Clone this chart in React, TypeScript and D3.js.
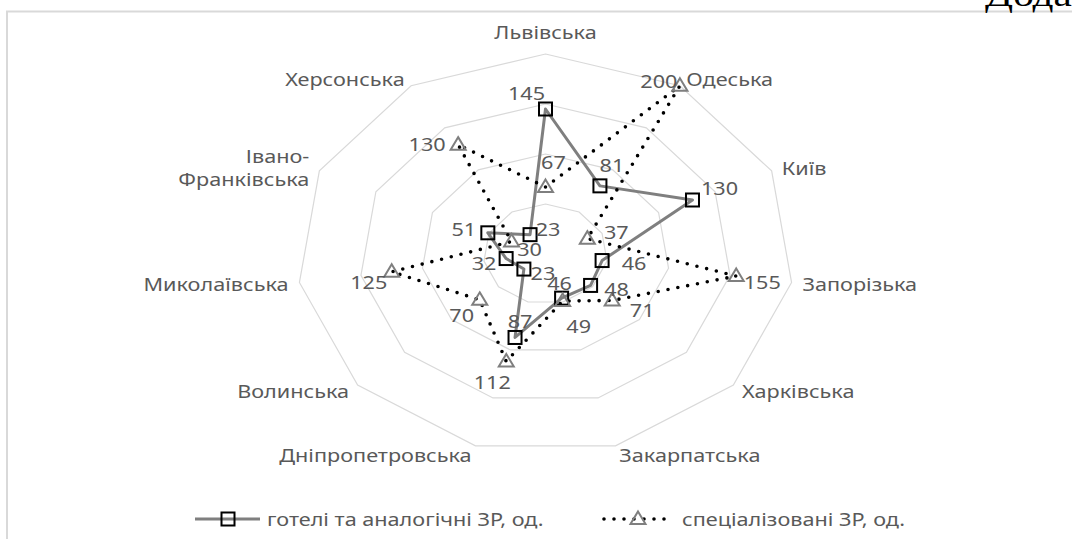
import React from "react";
import * as d3 from "d3";

const categories = [
  "Львівська",
  "Одеська",
  "Київ",
  "Запорізька",
  "Харківська",
  "Закарпатська",
  "Дніпропетровська",
  "Волинська",
  "Миколаївська",
  "Івано-|Франківська",
  "Херсонська",
];
const hotels = [145, 81, 130, 46, 48, 46, 87, 23, 32, 51, 23];
const special = [67, 200, 37, 155, 71, 49, 112, 70, 125, 30, 130];
const gridTicks = [50, 100, 150, 200];
const seriesNames = ["готелі та аналогічні ЗР, од.", "спеціалізовані ЗР, од."];

// label placement offsets (px) relative to each point
const hotelLabelOffsets = [[-19, -16], [12, -21], [27, -12], [32, 2], [26, 3], [-2, -15], [5, -17], [19, 4], [-22, 4], [-24, -4], [18, -6]];
const specialLabelOffsets = [[8, -25], [-21, -5], [29, -7], [26, 6], [30, 9], [16, 25], [-14, 20], [-18, 15], [-23, 10], [18, 7], [-31, -1]];

const FONT = "'Noto Sans', 'Open Sans', sans-serif";
const TEXT = "#595959";
const FS = 18.5;
const TX = 1.17;

export default function App() {
  const W = 1072, H = 539;
  const cx = 545.5, cy = 254, SX = 1.243;
  const n = categories.length;
  const r = d3.scaleLinear().domain([0, 200]).range([0, 200]);
  const angle = d3.scaleLinear().domain([0, n]).range([0, 2 * Math.PI]);
  const pt = (i: number, v: number): [number, number] => {
    const a = angle(i);
    return [cx + r(v) * Math.sin(a) * SX, cy - r(v) * Math.cos(a)];
  };
  const closed = d3.line().curve(d3.curveLinearClosed);

  const hotelPts = hotels.map((v, i) => pt(i, v));
  const specPts = special.map((v, i) => pt(i, v));

  const txt = (x: number, y: number, s: string, anchor = "middle", key?: any, extra: any = {}) => (
    <text
      key={key}
      transform={`translate(${x},${y}) scale(${TX},1)`}
      textAnchor={anchor}
      dominantBaseline="central"
      fontFamily={FONT}
      fontSize={FS}
      fill={TEXT}
      {...extra}
    >
      {s}
    </text>
  );

  const square = (x: number, y: number, key?: any) => (
    <rect key={key} x={x - 6.5} y={y - 6.5} width={13} height={13} fill="none" stroke="#000" strokeWidth={2} />
  );
  const tri = (x: number, y: number, key?: any) => (
    <path
      key={key}
      d={`M${x},${y - 7.5} L${x + 7.5},${y + 5} L${x - 7.5},${y + 5} Z`}
      fill="none"
      stroke="#7f7f7f"
      strokeWidth={2}
      strokeLinejoin="miter"
    />
  );

  const LY = 519;

  return (
    <svg width={W} height={H} style={{ position: "absolute", left: 0, top: 0, background: "#fff" }}>
      <rect x={0} y={0} width={W} height={H} fill="#fff" />
      {/* chart border */}
      <path d={`M7,${H + 5} L7,11.5 L${W + 5},11.5`} fill="none" stroke="#d9d9d9" strokeWidth={2} />
      {/* clipped header text */}
      <text
        transform={`translate(985,6) scale(1.25,1)`}
        fontFamily="'Liberation Serif', 'DejaVu Serif', serif"
        fontSize={33}
        fill="#000"
      >
        Додаток
      </text>

      {/* grid */}
      {gridTicks.map((t) => (
        <path
          key={t}
          d={closed(categories.map((_, i) => pt(i, t))) || ""}
          fill="none"
          stroke="#d9d9d9"
          strokeWidth={1.2}
        />
      ))}

      {/* category labels */}
      {categories.map((c, i) => {
        const a = angle(i);
        const [vx, vy] = pt(i, 200);
        const s = Math.sin(a), co = Math.cos(a);
        const lines = c.split("|");
        let x = vx, y = vy, anchor = "middle";
        if (i === 0) {
          y = vy - 22;
        } else {
          const g = 10 * Math.abs(s) + 1;
          x = s > 0 ? vx + g : vx - g;
          anchor = s > 0 ? "start" : "end";
          y = vy - 9 * co;
        }
        const lh = 23.4;
        return (
          <g key={c}>
            {lines.map((l, k) =>
              txt(x, y + (k - (lines.length - 1) / 2) * lh, l, anchor, k)
            )}
          </g>
        );
      })}

      {/* hotels series */}
      <path d={closed(hotelPts) || ""} fill="none" stroke="#7f7f7f" strokeWidth={3} strokeLinejoin="round" />
      {hotelPts.map((p, i) => square(p[0], p[1], i))}

      {/* special series */}
      <path
        d={closed(specPts) || ""}
        fill="none"
        stroke="#000"
        strokeWidth={3.6}
        strokeLinecap="round"
        strokeDasharray="0 10"
      />
      {specPts.map((p, i) => tri(p[0], p[1], i))}

      {/* data labels */}
      {hotelPts.map((p, i) =>
        txt(p[0] + hotelLabelOffsets[i][0], p[1] + hotelLabelOffsets[i][1], String(hotels[i]), "middle", "h" + i)
      )}
      {specPts.map((p, i) =>
        txt(p[0] + specialLabelOffsets[i][0], p[1] + specialLabelOffsets[i][1], String(special[i]), "middle", "s" + i)
      )}

      {/* legend */}
      <line x1={195} x2={260} y1={LY} y2={LY} stroke="#7f7f7f" strokeWidth={3} />
      {square(228, LY)}
      {txt(267, LY, seriesNames[0], "start")}
      <line x1={604} x2={672} y1={LY} y2={LY} stroke="#000" strokeWidth={3.6} strokeLinecap="round" strokeDasharray="0 10" />
      {tri(638, LY)}
      {txt(682, LY, seriesNames[1], "start")}
    </svg>
  );
}
